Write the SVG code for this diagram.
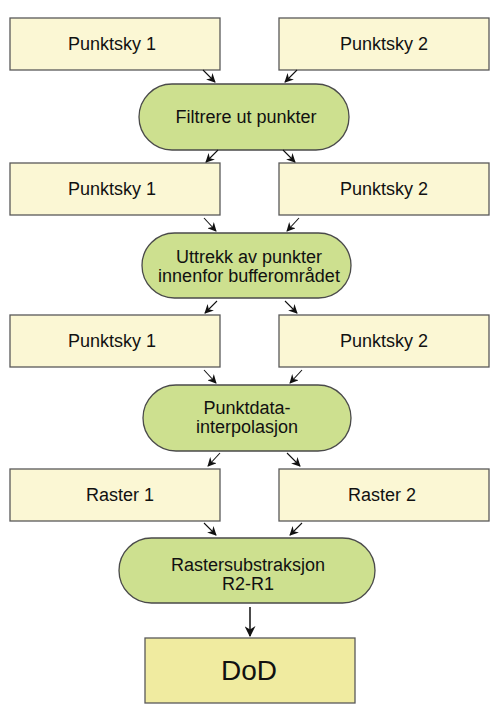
<svg xmlns="http://www.w3.org/2000/svg" width="500" height="721" viewBox="0 0 500 721">
<style>
.box{fill:#fbf7d4;stroke:#595959;stroke-width:1.3}
.pill{fill:#cde08f;stroke:#4a4a4a;stroke-width:1.3}
.dod{fill:#f0eba0;stroke:#595959;stroke-width:1.3}
text{font-family:"Liberation Sans",Arial,sans-serif;font-size:18px;fill:#111;text-anchor:middle}
.c line{stroke:#111;stroke-width:1.1;marker-end:url(#ah)}
</style>
<defs>
<marker id="ah" viewBox="0 0 10 10" refX="9" refY="5" markerWidth="9" markerHeight="9" markerUnits="userSpaceOnUse" orient="auto">
<path d="M0,0 L10,5 L0,10 L3,5 Z" fill="#111"/>
</marker>
<marker id="ah2" viewBox="0 0 10 10" refX="9" refY="5" markerWidth="11" markerHeight="11" markerUnits="userSpaceOnUse" orient="auto">
<path d="M0,0 L10,5 L0,10 L3,5 Z" fill="#111"/>
</marker>
</defs>
<g id="p1a"><rect class="box" x="10" y="18" width="210" height="52"/><text x="112" y="50">Punktsky 1</text></g>
<g id="p2a"><rect class="box" x="279" y="18" width="210" height="52"/><text x="384" y="50">Punktsky 2</text></g>
<g id="filter"><rect class="pill" x="139" y="84" width="210" height="66" rx="33"/><text x="246" y="123">Filtrere ut punkter</text></g>
<g id="p1b"><rect class="box" x="10" y="163" width="210" height="52"/><text x="112" y="195">Punktsky 1</text></g>
<g id="p2b"><rect class="box" x="279" y="163" width="210" height="52"/><text x="384" y="195">Punktsky 2</text></g>
<g id="uttrekk"><rect class="pill" x="142" y="233" width="209" height="65" rx="32.5"/><text x="249" y="262.5">Uttrekk av punkter</text><text x="249" y="281.5">innenfor bufferområdet</text></g>
<g id="p1c"><rect class="box" x="10" y="315" width="210" height="52"/><text x="112" y="347">Punktsky 1</text></g>
<g id="p2c"><rect class="box" x="279" y="315" width="210" height="52"/><text x="384" y="347">Punktsky 2</text></g>
<g id="interp"><rect class="pill" x="143" y="385" width="208" height="66" rx="33"/><text x="247" y="413.5">Punktdata-</text><text x="247" y="432.5">interpolasjon</text></g>
<g id="r1"><rect class="box" x="10" y="469" width="210" height="52"/><text x="120" y="501">Raster 1</text></g>
<g id="r2"><rect class="box" x="279" y="469" width="210" height="52"/><text x="382" y="501">Raster 2</text></g>
<g id="sub"><rect class="pill" x="119" y="538" width="256" height="65" rx="32.5"/><text x="248" y="570.5">Rastersubstraksjon</text><text x="248" y="589.5">R2-R1</text></g>
<g id="dod"><rect class="dod" x="145" y="638" width="210" height="65"/><text x="249" y="680" style="font-size:28px">DoD</text></g>
<g class="c" id="connectors">
<line x1="203" y1="70" x2="215" y2="82"/>
<line x1="297" y1="70" x2="285" y2="82"/>
<line x1="218" y1="150" x2="206" y2="162"/>
<line x1="283" y1="150" x2="295" y2="162"/>
<line x1="204" y1="218" x2="216" y2="231"/>
<line x1="299" y1="218" x2="287" y2="231"/>
<line x1="217" y1="301" x2="205" y2="313"/>
<line x1="285" y1="301" x2="297" y2="313"/>
<line x1="204" y1="370" x2="216" y2="383"/>
<line x1="302" y1="370" x2="290" y2="383"/>
<line x1="220" y1="453" x2="208" y2="466"/>
<line x1="287" y1="453" x2="300" y2="466"/>
<line x1="204" y1="523" x2="216" y2="535"/>
<line x1="302" y1="523" x2="290" y2="535"/>
<line x1="250" y1="607" x2="250" y2="636" style="stroke-width:1.5;marker-end:url(#ah2)"/>
</g>
</svg>
